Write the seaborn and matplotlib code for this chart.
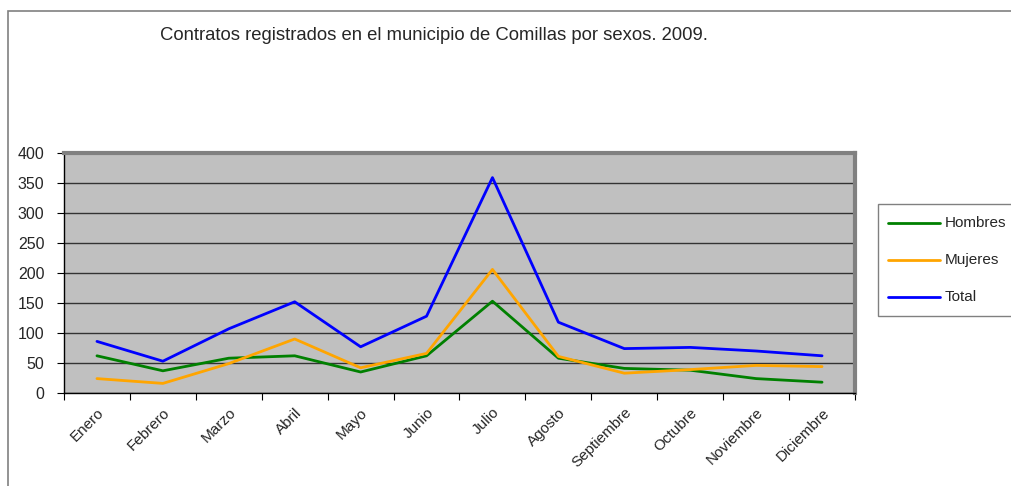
import pandas as pd
import matplotlib.pyplot as plt
import seaborn as sns
from matplotlib.patches import Rectangle

# ── DATA ─────────────────────────────────────────────────────────────────────

meses = ['Enero', 'Febrero', 'Marzo', 'Abril', 'Mayo', 'Junio', 'Julio',
         'Agosto', 'Septiembre', 'Octubre', 'Noviembre', 'Diciembre']
hombres = [62, 37, 58, 62, 35, 62, 153, 58, 41, 38, 24, 18]
mujeres = [24, 16, 49, 90, 42, 66, 206, 61, 33, 39, 46, 44]
total = [86, 53, 107, 152, 77, 128, 359, 118, 74, 76, 70, 62]

series = ['Hombres', 'Mujeres', 'Total']
colores = ['#008000', '#FFA500', '#0000FF']
y_ticks = list(range(0, 401, 50))

df = pd.DataFrame({'mes': meses * 3,
                   'pos': list(range(12)) * 3,
                   'serie': sum([[s] * 12 for s in series], []),
                   'valor': hombres + mujeres + total})

# ── PLOT ─────────────────────────────────────────────────────────────────────

sns.set_style('white')
plt.rcParams['font.family'] = ['Liberation Sans', 'DejaVu Sans']

fig = plt.figure(figsize=(10.11, 4.86), dpi=100)
ax = fig.add_axes([64 / 1011, 1 - 393 / 486, (855 - 64) / 1011, (393 - 153) / 486])

# outer chart frame
fig.patches.append(Rectangle((8 / 1011, -0.1), 1.2, 1 - 11 / 486 + 0.1,
                             transform=fig.transFigure, fill=False,
                             edgecolor='#808080', linewidth=1.2))

ax.set_facecolor('#C0C0C0')
sns.lineplot(data=df, x='pos', y='valor', hue='serie', palette=colores,
             linewidth=2, ax=ax, legend=False)

ax.set_xlim(-0.5, 11.5)
ax.set_ylim(0, 400)
ax.set_yticks(y_ticks)
ax.set_yticklabels([str(v) for v in y_ticks], fontsize=11.5)
ax.set_xticks([i - 0.5 for i in range(13)])
ax.set_xticklabels([])
ax.set_xticks(range(12), minor=True)
ax.set_xticklabels(meses, minor=True, rotation=45, ha='right',
                   rotation_mode='anchor', fontsize=11)
ax.tick_params(axis='x', which='minor', length=0, pad=9)
ax.tick_params(axis='x', which='major', length=5, width=0.8, direction='out',
               bottom=True, color='black')
ax.tick_params(axis='y', length=5, width=0.8, direction='out', left=True,
               color='black', pad=9)
ax.set_xlabel('')
ax.set_ylabel('')

ax.grid(axis='y', color='#333333', linewidth=1)
ax.set_axisbelow(True)
for side in ['top', 'right']:
    ax.spines[side].set_color('#808080')
    ax.spines[side].set_linewidth(3)
for side in ['left', 'bottom']:
    ax.spines[side].set_color('black')
    ax.spines[side].set_linewidth(1)

# legend box (Excel style, partly cut by figure edge)
fig.patches.append(Rectangle((878 / 1011, 1 - 316 / 486), 0.2, 112 / 486,
                             transform=fig.transFigure, facecolor='white',
                             edgecolor='#808080', linewidth=1))
for i, (s, c) in enumerate(zip(series, colores)):
    y = 1 - (223 + i * 37) / 486
    fig.add_artist(plt.Line2D([888 / 1011, 940 / 1011], [y, y],
                              transform=fig.transFigure, color=c, linewidth=2))
    fig.text(945 / 1011, y, s, fontsize=11, va='center', ha='left')

fig.text(434 / 1011, 1 - 35 / 486,
         'Contratos registrados en el municipio de Comillas por sexos. 2009.',
         fontsize=13.3, ha='center', va='center')

plt.savefig('out.png', dpi=100)
